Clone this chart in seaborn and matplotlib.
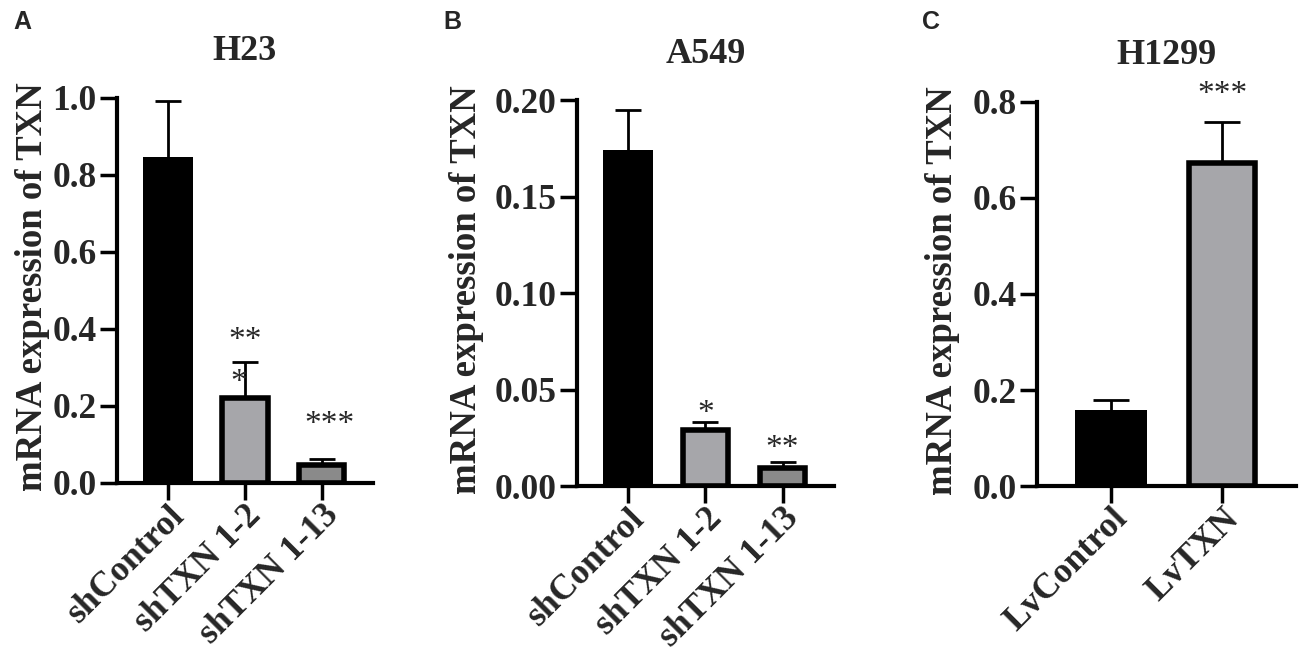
import numpy as np
import pandas as pd
import matplotlib
matplotlib.use("Agg")
import matplotlib.pyplot as plt
import seaborn as sns

sns.set_style("white")
plt.rcParams['font.family'] = ['Liberation Serif', 'DejaVu Serif']
plt.rcParams['font.weight'] = 'bold'

# panel A - H23
h23_groups = ["shControl", "shTXN 1-2", "shTXN 1-13"]
h23_mean = [0.847, 0.222, 0.047]
h23_upper = [0.992, 0.314, 0.062]
h23_stars = ["**", "***"]

# panel B - A549
a549_groups = ["shControl", "shTXN 1-2", "shTXN 1-13"]
a549_mean = [0.174, 0.029, 0.0092]
a549_upper = [0.195, 0.033, 0.0124]
a549_stars = ["*", "**"]

# panel C - H1299
h1299_groups = ["LvControl", "LvTXN"]
h1299_mean = [0.158, 0.672]
h1299_upper = [0.179, 0.758]
h1299_stars = ["***"]

black = "#000000"
light = "#a6a6aa"
dark = "#8a8a8a"

fig = plt.figure(figsize=(12.99, 6.55), dpi=100)
axA = fig.add_axes([0.090, 0.2626, 0.197, 0.5878])
axB = fig.add_axes([0.444, 0.2580, 0.198, 0.5893])
axC = fig.add_axes([0.798, 0.2580, 0.200, 0.5863])


def panel(ax, groups, mean, upper, colors, title, ylim, yticks, fmt, capsize,
          lpad):
    df = pd.DataFrame({"group": groups, "value": mean})
    sns.barplot(data=df, x="group", y="value", hue="group", palette=colors,
                legend=False, width=0.65, ax=ax, errorbar=None, saturation=1)
    for p, c in zip(ax.patches, colors):
        p.set_zorder(2)
        if c != black:
            p.set_edgecolor("black")
            p.set_linewidth(4)
            # keep the outer edge flush with the bar width
            w = p.get_width()
            p.set_x(p.get_x() + 0.03)
            p.set_width(w - 0.06)
        else:
            p.set_linewidth(0)
    x = np.arange(len(groups))
    err = np.array(upper) - np.array(mean)
    eb = ax.errorbar(x, mean, yerr=[np.zeros(len(mean)), err], fmt="none",
                     ecolor="black", elinewidth=2, capsize=capsize,
                     capthick=2, zorder=1)
    # only the upper cap is shown
    caps = eb.lines[1]
    if len(caps) > 1:
        caps[0].set_visible(False)
    ax.set_xlim(-0.667, len(groups) - 1 + 0.667)
    ax.set_ylim(*ylim)
    ax.set_yticks(yticks)
    ax.set_yticklabels([fmt.format(v) for v in yticks])
    ax.set_title(title, fontsize=26, fontweight="bold", pad=27)
    ax.set_xlabel("")
    ax.set_ylabel("mRNA expression of TXN", fontsize=26.5, fontweight="bold",
                  labelpad=lpad)
    ax.yaxis.label.set_y(0.51)
    ax.set_xticks(x)
    ax.set_xticklabels(groups, rotation=45, ha="right", va="top",
                       rotation_mode="anchor")
    ax.tick_params(axis="both", direction="out", length=12.5,
                   width=2.5, color="black", left=True, bottom=True)
    ax.tick_params(axis="y", labelsize=25.5, pad=2)
    ax.tick_params(axis="x", labelsize=25.5, pad=-1)
    for lab in ax.get_xticklabels() + ax.get_yticklabels():
        lab.set_fontweight("bold")
    sns.despine(ax=ax)
    for s in ["left", "bottom"]:
        ax.spines[s].set_linewidth(3)
        ax.spines[s].set_color("black")
        ax.spines[s].set_zorder(3)


panel(axA, h23_groups, h23_mean, h23_upper, [black, light, dark], "H23",
      (0, 1.0), [0.0, 0.2, 0.4, 0.6, 0.8, 1.0], "{:.1f}", 9.5, 2)
panel(axB, a549_groups, a549_mean, a549_upper, [black, light, dark], "A549",
      (0, 0.20), [0.0, 0.05, 0.10, 0.15, 0.20], "{:.2f}", 9.5, 8)
panel(axC, h1299_groups, h1299_mean, h1299_upper, [black, light], "H1299",
      (0, 0.8), [0.0, 0.2, 0.4, 0.6, 0.8], "{:.1f}", 13, 9)

star_kw = dict(ha="center", va="center", fontsize=24, fontweight="normal")
axA.text(1.0, 0.37, h23_stars[0], **star_kw)
axA.text(0.92, 0.26, "*", **star_kw)
axA.text(2.1, 0.15, h23_stars[1], **star_kw)
axB.text(1.0, 0.0375, a549_stars[0], **star_kw)
axB.text(2.0, 0.0195, a549_stars[1], **star_kw)
axC.text(1.0, 0.815, h1299_stars[0], **star_kw)

for lx, letter in [(0.010, "A"), (0.341, "B"), (0.710, "C")]:
    fig.text(lx, 0.985, letter, fontsize=18, fontweight="bold",
             family=["Liberation Sans", "DejaVu Sans"], va="top")

fig.savefig("out.png", dpi=100)
